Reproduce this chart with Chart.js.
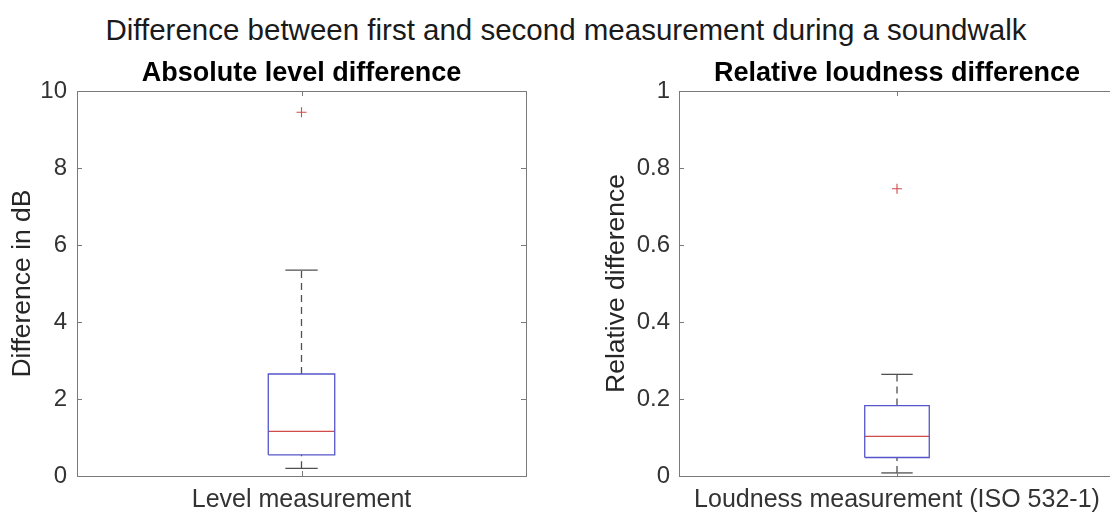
<!DOCTYPE html>
<html>
<head>
<meta charset="utf-8">
<script src="https://cdn.jsdelivr.net/npm/chart.js@4.4.1/dist/chart.umd.min.js"></script>
<style>
  html, body { margin: 0; padding: 0; background: #fff; }
  body { width: 1110px; height: 513px; position: relative; overflow: hidden; font-family: "Liberation Sans", Arial, Helvetica, sans-serif; }
  #suptitle { position: absolute; left: 0; top: 13px; width: 1132px; text-align: center; font-size: 29.5px; line-height: 34px; color: #1a1a1a; white-space: nowrap; }
  .panel { position: absolute; top: 0; height: 513px; }
  #p1 { left: 0; width: 555px; }
  #p2 { left: 555px; width: 575px; }
</style>
</head>
<body>
<div id="suptitle">Difference between first and second measurement during a soundwalk</div>
<div class="panel" id="p1"><canvas id="c1"></canvas></div>
<div class="panel" id="p2"><canvas id="c2"></canvas></div>
<script>
// ---- data ----
const categories   = ['Level measurement', 'Loudness measurement (ISO 532-1)'];
const panelTitles  = ['Absolute level difference', 'Relative loudness difference'];
const yTitles      = ['Difference in dB', 'Relative difference'];
const q1           = [0.55, 0.048];
const medians      = [1.16, 0.103];
const q3           = [2.65, 0.183];
const whiskerLow   = [0.20, 0.008];
const whiskerHigh  = [5.35, 0.264];
const outliers     = [[9.45], [0.746]];
const yTicksLeft   = [0, 2, 4, 6, 8, 10];
const yTicksRight  = [0, 0.2, 0.4, 0.6, 0.8, 1];
const yTickSets    = [yTicksLeft, yTicksRight];

// ---- styling / layout ----
const FONT = '"Liberation Sans", Arial, Helvetica, sans-serif';
const BOX_HALF = 0.148, CAP_HALF = 0.072;
const layoutCfg = [
  { yWidth: 77, padRight: 29, yTitlePad: 7, yTickPad: 10 },
  { yWidth: 124, padRight: 15, yTitlePad: 46, yTickPad: 9 }
];

const framePlugin = {
  id: 'frame',
  afterDraw(chart) {
    const { ctx, chartArea: a, scales } = chart;
    ctx.save();
    ctx.strokeStyle = '#7a7a7a';
    ctx.lineWidth = 1;
    ctx.strokeRect(Math.round(a.left) + 0.5, Math.round(a.top) + 0.5, Math.round(a.right - a.left), Math.round(a.bottom - a.top));
    const tl = 5;
    ctx.beginPath();
    scales.y.ticks.forEach(t => {
      const y = Math.round(scales.y.getPixelForValue(t.value)) + 0.5;
      ctx.moveTo(a.left, y); ctx.lineTo(a.left + tl, y);
      ctx.moveTo(a.right, y); ctx.lineTo(a.right - tl, y);
    });
    scales.x.ticks.forEach(t => {
      const x = Math.round(scales.x.getPixelForValue(t.value)) + 0.5;
      ctx.moveTo(x, a.bottom); ctx.lineTo(x, a.bottom - tl);
      ctx.moveTo(x, a.top); ctx.lineTo(x, a.top + tl);
    });
    ctx.stroke();
    ctx.restore();
  }
};

function makePanel(canvasId, i) {
  const L = layoutCfg[i];
  const line = (pts, color, dash) => ({
    data: pts, showLine: true, borderColor: color, borderWidth: 1.3,
    borderDash: dash || [], pointRadius: 0, fill: false, tension: 0, borderJoinStyle: 'miter'
  });
  const datasets = [
    line([{x:-BOX_HALF,y:q1[i]},{x:BOX_HALF,y:q1[i]},{x:BOX_HALF,y:q3[i]},{x:-BOX_HALF,y:q3[i]},{x:-BOX_HALF,y:q1[i]}], '#5656cc'),
    line([{x:-BOX_HALF,y:medians[i]},{x:BOX_HALF,y:medians[i]}], '#d24a4a'),
    line([{x:0,y:q3[i]},{x:0,y:whiskerHigh[i]}], '#505050', [7, 5]),
    line([{x:0,y:whiskerLow[i]},{x:0,y:q1[i]}], '#505050', [7, 5]),
    line([{x:-CAP_HALF,y:whiskerHigh[i]},{x:CAP_HALF,y:whiskerHigh[i]}], '#505050'),
    line([{x:-CAP_HALF,y:whiskerLow[i]},{x:CAP_HALF,y:whiskerLow[i]}], '#505050'),
    { data: outliers[i].map(v => ({x:0, y:v})), showLine: false, pointStyle: 'cross',
      pointRadius: 5, borderColor: '#d24a4a', borderWidth: 1.1, backgroundColor: '#d24a4a' }
  ];
  return new Chart(document.getElementById(canvasId), {
    type: 'scatter',
    data: { datasets },
    plugins: [framePlugin],
    options: {
      responsive: true, maintainAspectRatio: false, animation: false,
      layout: { padding: { top: 0, bottom: 0, left: 0, right: L.padRight } },
      plugins: {
        legend: { display: false }, tooltip: { enabled: false },
        title: { display: true, fullSize: false, text: panelTitles[i], color: '#000',
          font: { family: FONT, size: 27, weight: 'bold', lineHeight: 1.2 },
          padding: { top: 57, bottom: 1.6 } }
      },
      scales: {
        x: {
          type: 'linear', min: -1, max: 1,
          afterFit(s) { s.height = 37; },
          afterBuildTicks(s) { s.ticks = [{ value: 0 }]; },
          grid: { display: false, drawTicks: false },
          border: { display: false },
          ticks: { padding: 9, color: '#333', font: { family: FONT, size: 25 },
            callback: () => categories[i] }
        },
        y: {
          min: yTickSets[i][0], max: yTickSets[i][yTickSets[i].length - 1],
          afterFit(s) { s.width = L.yWidth; },
          afterBuildTicks(s) { s.ticks = yTickSets[i].map(v => ({ value: v })); },
          grid: { display: false, drawTicks: false },
          border: { display: false },
          ticks: { padding: L.yTickPad, color: '#333', font: { family: FONT, size: 24 },
            callback: v => String(v) },
          title: { display: true, text: yTitles[i], color: '#262626',
            font: { family: FONT, size: 26.5, lineHeight: 1.2 },
            padding: { top: L.yTitlePad, bottom: 0 } }
        }
      }
    }
  });
}
makePanel('c1', 0);
makePanel('c2', 1);
</script>
</body>
</html>
